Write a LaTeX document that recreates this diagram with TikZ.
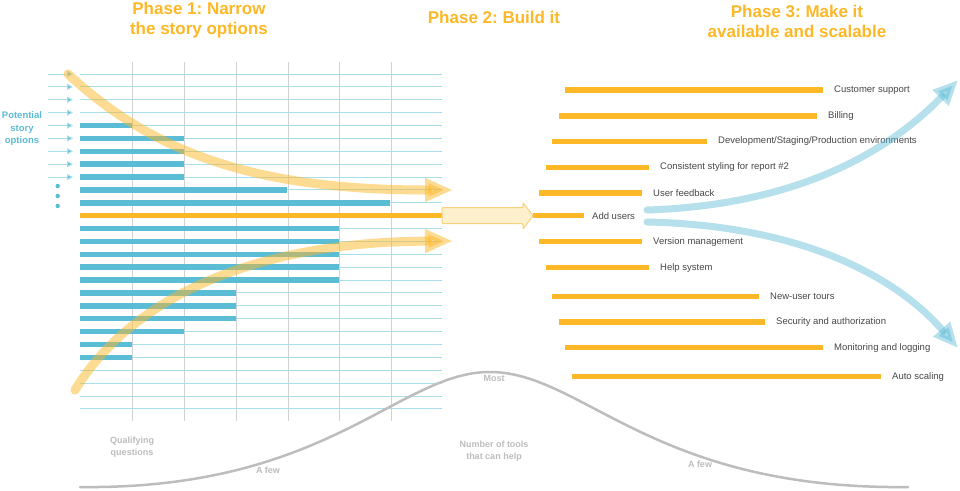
\documentclass[tikz,border=0pt]{standalone}
\usepackage{fontspec}
\setmainfont{Liberation Sans}
\usepackage{tikz}
\usetikzlibrary{arrows.meta, positioning, calc}
\definecolor{Amber}{HTML}{FDB827}
\definecolor{Sky}{HTML}{5BBCD6}
\definecolor{PaleSky}{HTML}{A9DDEA}
\definecolor{GridGray}{HTML}{D2D2D2}
\definecolor{Ash}{HTML}{BDBDBD}
\definecolor{Slate}{HTML}{474747}
\definecolor{Cream}{HTML}{FDF0CC}
\definecolor{Sand}{HTML}{F7D27C}
\newcommand{\rowy}[1]{74+12.88*#1}
\frenchspacing

\begin{document}
\begin{tikzpicture}[x=1pt, y=-1pt,
    thinrow/.style={PaleSky, line width=1pt},
    storybar/.style={Sky, line width=5.5pt},
    keybar/.style={Amber, line width=5.5pt},
    taskbar/.style={Amber, line width=5.5pt},
    gridline/.style={GridGray, line width=1pt},
    optarrow/.style={PaleSky, line width=1pt, -{Triangle[length=6pt, width=6pt, fill=Sky]}, draw=PaleSky},
    funnel/.style={Amber, opacity=0.5, line width=9pt, line cap=round, -{Triangle[length=28pt, width=22pt]}},
    spread/.style={Sky, opacity=0.45, line width=7pt, line cap=round, -{Triangle[length=25pt, width=21pt]}},
    phase/.style={Amber, align=center, font=\bfseries\fontsize{17}{20}\selectfont},
    tasklabel/.style={Slate, inner sep=0pt, font=\fontsize{9.5}{11}\selectfont},
    axislabel/.style={Ash, align=center, font=\bfseries\fontsize{9}{11.5}\selectfont}]

    \fill[white] (0,0) rectangle (960,490);
    \useasboundingbox (0,0) rectangle (960,490);

    % titles
    \node[phase] (phaseA) at (199,20) {Phase 1: Narrow\\the story options};
    \node[phase] (phaseB) at (494,17) {Phase 2: Build it};
    \node[phase] (phaseC) at (797,21) {Phase 3: Make it\\available and scalable};

    % grid of story options
    \foreach \x in {132,184,236,288,339,391}
        \draw[gridline] (\x,62) -- (\x,421);
    \foreach \i in {0,...,26} {
        \coordinate (row\i) at (80,{\rowy{\i}});
        \draw[thinrow] (row\i) -- ++(362,0);
    }
    \foreach \i/\xe in {4/132,5/184,6/184,7/184,8/184,9/287,10/390,
                        12/339,13/339,14/339,15/339,16/339,
                        17/236,18/236,19/236,20/184,21/132,22/132}
        \draw[storybar] (row\i) -- (\xe,{\rowy{\i}});
    \coordinate (pickend) at (442,{\rowy{11}});
    \draw[keybar] (row11) -- (pickend);

    \foreach \i in {0,...,8}
        \draw[optarrow] ([xshift=-32pt]row\i) -- ([xshift=-7pt]row\i);
    \foreach \y in {186,196,206}
        \fill[Sky] (57.7,\y) circle (2.2);
    \node[Sky, align=center, font=\bfseries\fontsize{9.5}{12.5}\selectfont] (options) at (22,129) {Potential\\story\\options};

    % funnel arrows
    \coordinate (topstart) at (68,74);
    \coordinate (botstart) at (75,390);
    \coordinate (toptip) at (453,190);
    \coordinate (bottip) at (453,241);
    \draw[funnel] (topstart) .. controls (150,150) and (250,190) .. (toptip);
    \draw[funnel] (botstart) .. controls (130,300) and (250,242) .. (bottip);

    % build it
    \coordinate (adduser) at (533,{\rowy{11}});
    \coordinate (addend) at (584,{\rowy{11}});
    \draw[Sand, fill=Cream, line width=1pt, rounded corners=1pt]
        (pickend) ++(0,-8) -- ++(81,0) -- ++(0,-5) -- (adduser)
        -- ++(-10,13.5) -- ++(0,-5.5) -- ++(-81,0) -- cycle;
    \draw[taskbar] (adduser) -- (addend);
    \node[tasklabel, right=8pt of addend] (taskadd) {Add users};

    % features
    \foreach \y/\xa/\xb/\txt [count=\k] in {
        90/565/823/Customer support,
        116/559/817/Billing,
        141.3/552/707/{Development/Staging/Production environments},
        167.3/546/649/Consistent styling for report \#2,
        193/539/642/User feedback,
        241.7/539/642/Version management,
        267.7/546/649/Help system,
        296.3/552/759/New-user tours,
        322/559/765/Security and authorization,
        347.7/565/823/Monitoring and logging,
        376.7/572/881/Auto scaling} {
        \coordinate (taskend\k) at (\xb,\y);
        \draw[taskbar] (\xa,\y) -- (taskend\k);
        \node[tasklabel, right=11pt of taskend\k] (task\k) {\txt};
    }

    % scale arrows
    \coordinate (upstart) at (647,210);
    \coordinate (downstart) at (647,222);
    \coordinate (uptip) at (958,80);
    \coordinate (downtip) at (958,348);
    \draw[spread] (upstart) .. controls (800,205) and (890,150) .. (uptip);
    \draw[spread] (downstart) .. controls (790,225) and (890,270) .. (downtip);

    % number of tools
    \coordinate (toolslow) at (80,487);
    \coordinate (toolspeak) at (492,372);
    \coordinate (toolsend) at (908,487);
    \draw[Ash, line width=2.5pt, line cap=round]
        (toolslow) .. controls (330,490) and (400,370) .. (toolspeak)
        .. controls (584,374) and (654,490) .. (toolsend);
    \node[axislabel] (qualify) at (132,447) {Qualifying\\questions};
    \node[axislabel] (tools) at (494,451) {Number of tools\\that can help};
    \node[axislabel] (most) at (494,378) {Most};
    \node[axislabel] (fewA) at (268,470) {A few};
    \node[axislabel] (fewB) at (700,464) {A few};
\end{tikzpicture}
\end{document}
